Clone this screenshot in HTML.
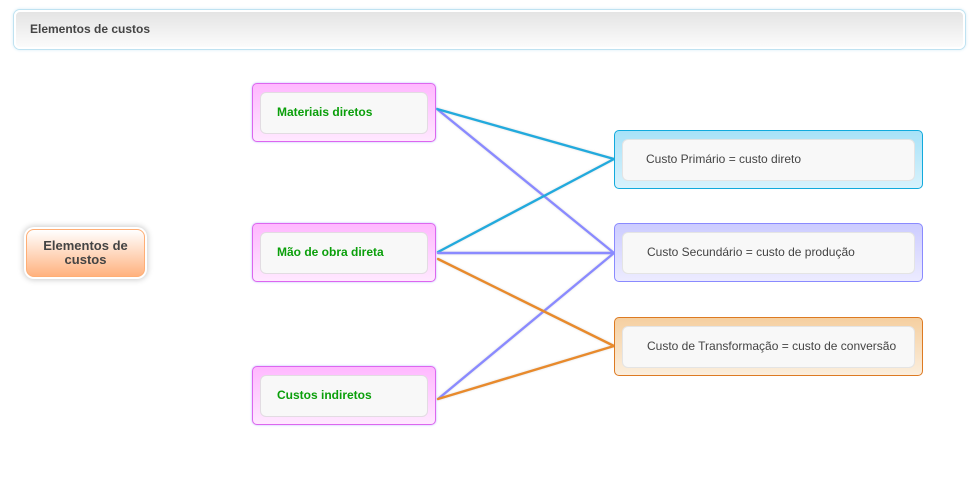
<!DOCTYPE html>
<html><head><meta charset="utf-8">
<style>
html,body{margin:0;padding:0;width:980px;height:489px;background:#fff;overflow:hidden;font-family:"Liberation Sans",sans-serif}
.a{position:absolute;box-sizing:border-box}
.hdr{left:14px;top:10px;width:951px;height:39px;border-radius:6px;background:linear-gradient(#e4e4e4,#fbfbfb);border:2px solid #fff;box-shadow:0 0 0 1px #bfe2f1,0 0 3px 1px #d6ecf6;font-weight:bold;font-size:12px;color:#444;line-height:34px;padding-left:14px}
.root{left:26px;top:229px;width:119px;height:48px;border-radius:8px;background:linear-gradient(#fff,#ffb27f);border:1px solid #ffae75;box-shadow:0 0 0 2px #fff,0 0 6px 3px #ccc;font-weight:bold;font-size:13px;line-height:14px;color:#444;text-align:center;padding:9px 8px 0}
.n{border-radius:5px;border:1px solid}
.p{left:252px;width:184px;height:59px;border-color:#dd66ee;background:linear-gradient(#ffb8ff,#ffe8ff);box-shadow:0 0 2px #b8b8ff}
.i{box-sizing:border-box;border-radius:6px;background:#f8f8f8;border:1px solid #e2dce2;height:42px;font-size:12px;line-height:38px}
.p .i{position:absolute;left:7px;top:8px;width:168px;font-weight:bold;color:#0a9f0a;padding-left:16px}
.r{left:614px;width:309px;height:59px}
.r .i{position:absolute;left:7px;top:8px;width:293px;color:#444;padding-left:23px;border-color:#e4e4e4}
</style></head><body>
<div class="a hdr">Elementos de custos</div>
<div class="a root">Elementos de custos</div>
<svg class="a" style="left:0;top:0;filter:drop-shadow(0 0 1px rgba(140,140,140,.3))" width="980" height="489">
<g fill="none" stroke-width="2.4" stroke-linecap="round">
<line x1="437" y1="109" x2="614" y2="253" stroke="#8a8aff"/>
<line x1="437" y1="109" x2="614" y2="159" stroke="#22aadd"/>
<line x1="438" y1="252" x2="614" y2="159" stroke="#22aadd"/>
<line x1="438" y1="253" x2="614" y2="253" stroke="#8a8aff"/>
<line x1="438" y1="399" x2="614" y2="253" stroke="#8a8aff"/>
<line x1="438" y1="259" x2="614" y2="346" stroke="#e88a2c"/>
<line x1="438" y1="399" x2="614" y2="346" stroke="#e88a2c"/>
</g></svg>
<div class="a n p" style="top:83px"><div class="i">Materiais diretos</div></div>
<div class="a n p" style="top:223px"><div class="i">Mão de obra direta</div></div>
<div class="a n p" style="top:366px"><div class="i">Custos indiretos</div></div>
<div class="a n r" style="top:130px;border-color:#11aadd;background:linear-gradient(#a8e2f8,#d8f2fc)"><div class="i">Custo Primário = custo direto</div></div>
<div class="a n r" style="top:223px;border-color:#8a8aff;background:linear-gradient(#ccccff,#ecebff)"><div class="i" style="padding-left:24px">Custo Secundário = custo de produção</div></div>
<div class="a n r" style="top:317px;border-color:#dd7a22;background:linear-gradient(#f5cfa0,#fbeedd)"><div class="i" style="padding-left:24px">Custo de Transformação = custo de conversão</div></div>
</body></html>
